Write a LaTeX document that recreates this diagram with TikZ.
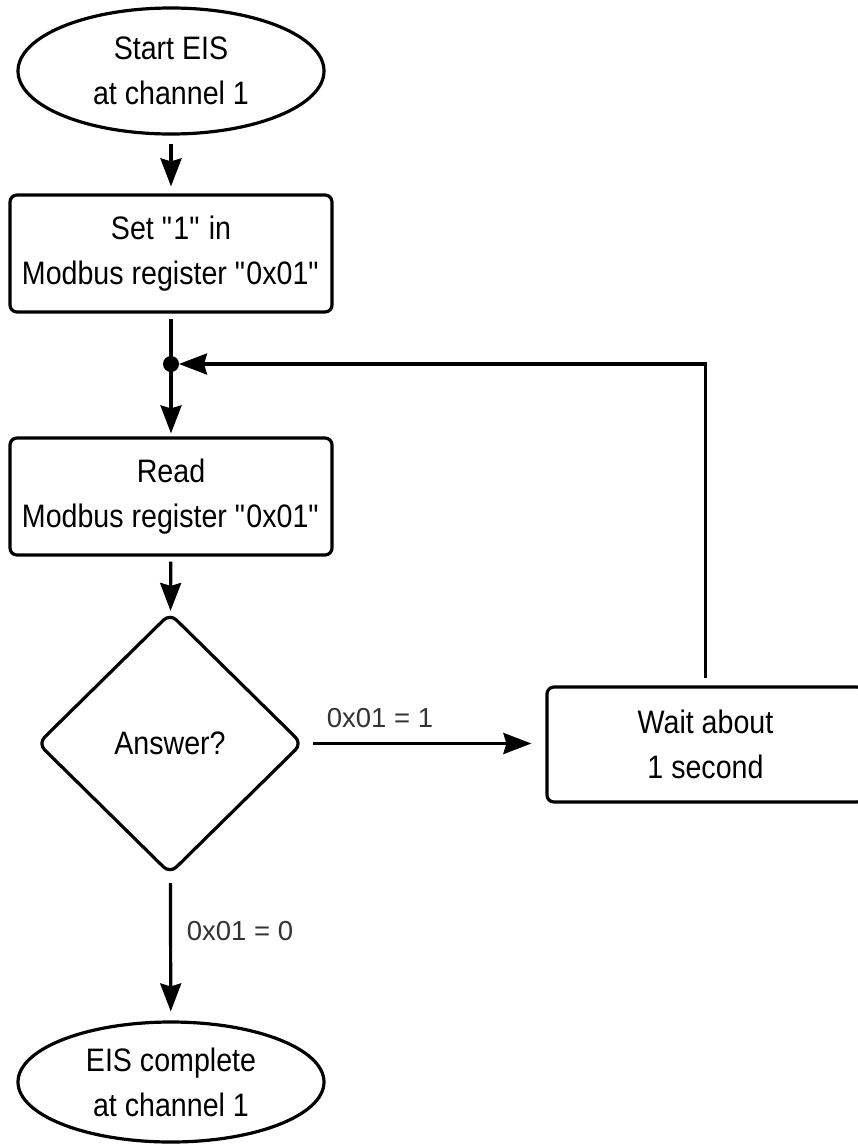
\documentclass[tikz,border=0pt]{standalone}
\usepackage{fontspec}
\setmainfont{Liberation Sans}[FakeStretch=0.88]
\newfontfamily\lblfont{Liberation Sans}
\usetikzlibrary{shapes.geometric,arrows.meta}
\newcommand{\dq}{\textquotedbl}
\begin{document}
\begin{tikzpicture}[x=1pt,y=-1pt,
  line width=3.2pt,
  every node/.style={font=\fontsize{32.5}{45}\selectfont, align=center, inner sep=0pt},
  term/.style={ellipse, draw, minimum width=306pt, minimum height=126pt},
  proc/.style={rectangle, draw, rounded corners=7pt, minimum width=322pt, minimum height=117pt},
  decide/.style={diamond, draw, rounded corners=9pt, minimum width=265pt, minimum height=261pt},
  flow/.style={-{Stealth[length=28pt,width=21pt,inset=3pt]}},
  lbl/.style={font=\lblfont\fontsize{27.5}{32}\selectfont, text=black!80},
]
\useasboundingbox (0,0) rectangle (858,1144);

% process nodes
\node[term] (start) at (171,71) {Start EIS\\at channel 1};
\node[proc] (set) at (171,253.5) {Set \dq1\dq{} in\\Modbus register \dq0x01\dq};
\coordinate (join) at (171,364);
\node[proc] (read) at (171,496.5) {Read\\Modbus register \dq0x01\dq};
\node[decide] (ans) at (170,743.5) {Answer?};
\node[proc, minimum width=317pt, minimum height=115pt] (wait) at (705.5,744.5) {Wait about\\1 second};
\node[term, minimum height=120pt] (done) at (171,1082) {EIS complete\\at channel 1};

% connectors
\draw[flow, shorten <=8pt, shorten >=7pt] (start) -- (set);
\draw[shorten <=5pt] (set) -- (join);
\fill (join) circle[radius=8pt];
\draw[flow, shorten >=3pt] (join) -- (read);
\draw[flow, shorten <=5pt, shorten >=1pt] (read) -- (ans);
\draw[flow, shorten <=9pt, shorten >=14pt] (ans.east) -- (ans.east -| wait.west);
\draw[flow, shorten <=8pt, shorten >=9pt] (ans) -- (done);
\draw[flow, shorten <=7pt, shorten >=8pt] (wait.north) |- (join);

% branch labels
\node[lbl] (l1) at (380,718) {0x01 = 1};
\node[lbl] (l0) at (240,931) {0x01 = 0};
\end{tikzpicture}
\end{document}
